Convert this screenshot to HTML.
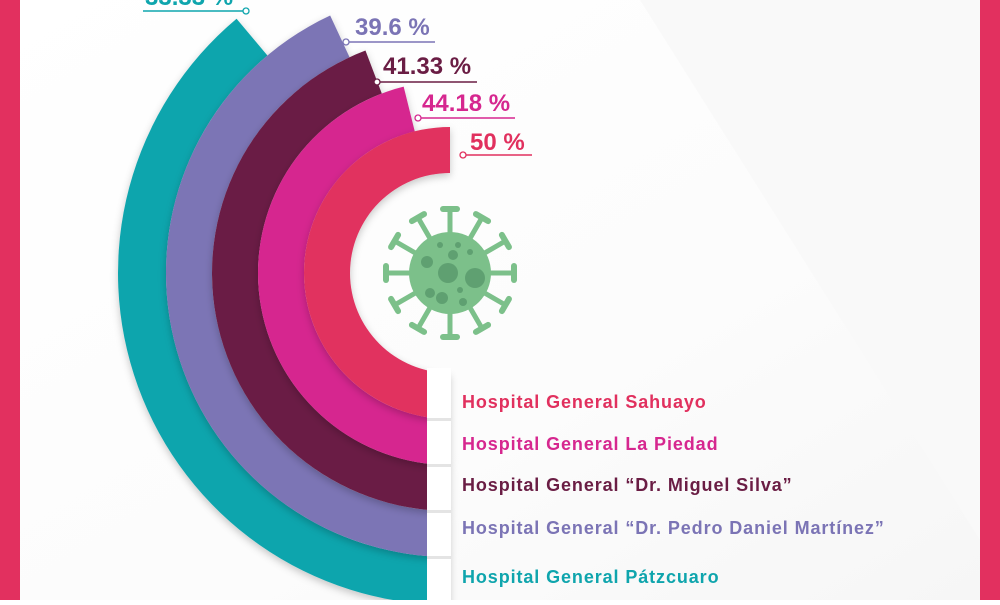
<!DOCTYPE html>
<html><head><meta charset="utf-8"><style>
html,body{margin:0;padding:0;}
body{width:1000px;height:600px;overflow:hidden;background:#fff;font-family:"Liberation Sans",sans-serif;}
</style></head><body>
<svg width="1000" height="600" viewBox="0 0 1000 600" xmlns="http://www.w3.org/2000/svg">
<defs>
<linearGradient id="bg" x1="0" y1="0" x2="1" y2="1">
<stop offset="0" stop-color="#ffffff"/><stop offset="0.6" stop-color="#fcfcfc"/><stop offset="1" stop-color="#f6f6f6"/>
</linearGradient>
<filter id="sh" x="-20%" y="-20%" width="140%" height="140%"><feDropShadow dx="0" dy="3" stdDeviation="4" flood-color="#000" flood-opacity="0.22"/></filter>
</defs>
<rect x="0" y="0" width="1000" height="600" fill="url(#bg)"/>
<polygon points="640,0 980,0 980,540" fill="#f9f9f9"/>
<g id="rings"></g>
<rect x="427" y="368" width="24" height="232" fill="#fff"/>
<g id="seps"></g>
<g id="virus"></g>
<g id="labels"></g>
<g id="legend"></g>
<rect x="0" y="0" width="20" height="600" fill="#e2305f"/>
<rect x="980" y="0" width="20" height="600" fill="#e2305f"/>
</svg>
<script>
const categories = ["Hospital General Sahuayo","Hospital General La Piedad","Hospital General “Dr. Miguel Silva”","Hospital General “Dr. Pedro Daniel Martínez”","Hospital General Pátzcuaro"];
const values = [50, 44.18, 41.33, 39.6, 33.33];
const valueLabels = ["50 %","44.18 %","41.33 %","39.6 %","33.33 %"];
const colors = ["#e1305e","#d6278f","#6a1d44","#7b74b5","#0fa5ad"];

const NS="http://www.w3.org/2000/svg";
const cx=450, cy=273, r0=100, bw=46;
function angleScale(v){ return 60 + 2.4*v; }
function pt(r,deg){ const a=deg*Math.PI/180; return [cx - r*Math.sin(a), cy + r*Math.cos(a)]; }
function el(tag,attrs,parent){const e=document.createElementNS(NS,tag);for(const k in attrs)e.setAttribute(k,attrs[k]);parent.appendChild(e);return e;}

const rings=document.getElementById('rings');
for(let i=values.length-1;i>=0;i--){
  const ri=r0+i*bw, ro=ri+bw+(i===values.length-1?2:0);
  const ang=angleScale(values[i]);
  const [x1,y1]=pt(ro,0),[x2,y2]=pt(ro,ang),[x3,y3]=pt(ri,ang),[x4,y4]=pt(ri,0);
  const large=ang>180?1:0;
  const p=el('path',{d:`M${x1},${y1} A${ro},${ro} 0 ${large} 1 ${x2},${y2} L${x3},${y3} A${ri},${ri} 0 ${large} 0 ${x4},${y4} Z`,fill:colors[i],filter:'url(#sh)'},rings);
  
  
}
const seps=document.getElementById('seps');
for(let i=0;i<values.length-1;i++){
  const y=cy+r0+(i+1)*bw;
  const s=el('rect',{x:427,y:y-1,width:24,height:3,fill:'#e4e4e4'},seps);
  
  
}

const labels=document.getElementById('labels');
const labelPos=[[470,150,463,155,532],[422,111,418,118,515],[383,74,377,82,477],[355,35,346,42,435],[145,5,140,11,246]];
for(let i=0;i<values.length;i++){
  const [tx,ty,lx1,ly,lx2]=labelPos[i];
  const t=el('text',{x:tx,y:ty,fill:colors[i],'font-size':24,'font-weight':'bold','font-family':'Liberation Sans, sans-serif'},labels);
  t.textContent=valueLabels[i];
  
  
  const ln=el('line',{x1:lx1+3,y1:ly,x2:lx2,y2:ly,stroke:colors[i],'stroke-width':1.5},labels);
  
  
  const cxp = i===4?lx2:lx1;
  const c=el('circle',{cx:cxp,cy:ly,r:3,fill:'#fff',stroke:colors[i],'stroke-width':1.3},labels);
  
  
}

const legend=document.getElementById('legend');
const legY=[408,450,491,534,583];
for(let i=0;i<categories.length;i++){
  const t=el('text',{x:462,y:legY[i],fill:colors[i],'font-size':18,'font-weight':'bold','letter-spacing':'0.9','font-family':'Liberation Sans, sans-serif'},legend);
  t.textContent=categories[i];
  
  
}

const v=document.getElementById('virus');
const g='#7cc08a', d='#5fa071';
for(let k=0;k<12;k++){
  const a=k*30*Math.PI/180;
  const sx=450+Math.sin(a)*38, sy=273-Math.cos(a)*38;
  const ex=450+Math.sin(a)*64, ey=273-Math.cos(a)*64;
  el('line',{x1:sx,y1:sy,x2:ex,y2:ey,stroke:g,'stroke-width':5,'stroke-linecap':'round'},v);
  const px=Math.cos(a)*7, py=Math.sin(a)*7;
  el('line',{x1:ex-px,y1:ey-py,x2:ex+px,y2:ey+py,stroke:g,'stroke-width':6,'stroke-linecap':'round'},v);
}
el('circle',{cx:450,cy:273,r:41,fill:g},v);
[[448,273,10],[475,278,10],[427,262,6],[453,255,5],[430,293,5],[442,298,6],[463,302,4],[458,245,3],[440,245,3],[470,252,3],[460,290,3]].forEach(([x,y,r])=>el('circle',{cx:x,cy:y,r:r,fill:d},v));
</script>
</body></html>
